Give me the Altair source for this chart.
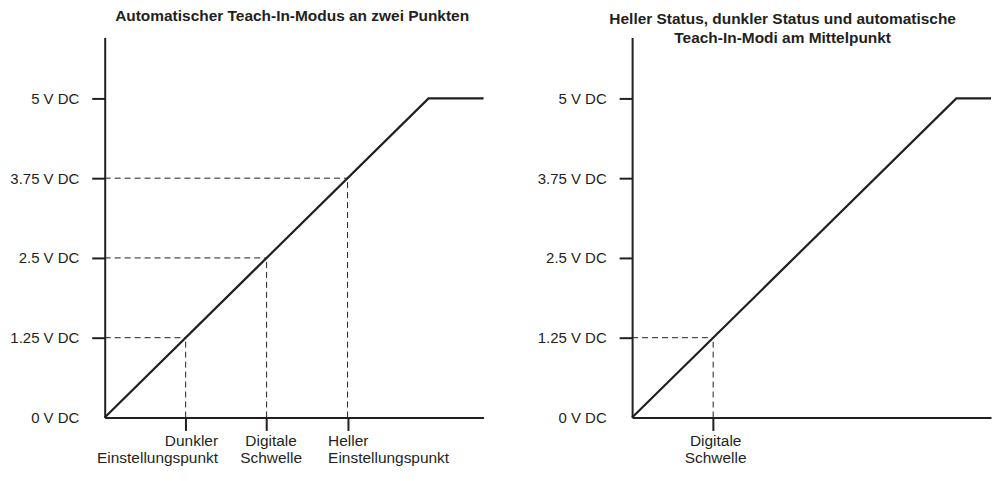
import altair as alt
import pandas as pd

C = "#231f20"
F = "Liberation Sans"

# ---- data ----
y_ticks = [0, 1.25, 2.5, 3.75, 5]
y_labels = ["0 V DC", "1.25 V DC", "2.5 V DC", "3.75 V DC", "5 V DC"]
y_max = 5.953

left_title = ["Automatischer Teach-In-Modus an zwei Punkten"]
left_line_x = [0, 5, 5.85]
left_line_y = [0, 5, 5]
left_marks = [1.25, 2.5, 3.75]
left_mark_labels = [["Dunkler", "Einstellungspunkt"], ["Digitale", "Schwelle"], ["Heller", "Einstellungspunkt"]]

right_title = ["Heller Status, dunkler Status und automatische", "Teach-In-Modi am Mittelpunkt"]
right_line_x = [0, 5, 5.535]
right_line_y = [0, 5, 5]
right_marks = [1.25]
right_mark_labels = [["Digitale", "Schwelle"]]


def label_expr(values, labels, default):
    expr = default
    for v, lab in reversed(list(zip(values, labels))):
        if isinstance(lab, list):
            s = "[" + ",".join("'" + t + "'" for t in lab) + "]"
        else:
            s = "'" + lab + "'"
        expr = f"datum.value == {v} ? {s} : {expr}"
    return expr


def cond(values, settings, default):
    return {
        "condition": [{"test": f"datum.value == {v}", "value": s} for v, s in zip(values, settings)],
        "value": default,
    }


def panel(title, offset, dx, lx, ly, marks, mlabels, aligns, offsets, width, xmax):
    line_df = pd.DataFrame({"x": lx, "y": ly})
    rows = []
    for m in marks:
        rows.append({"x": 0, "x2": m, "y": m, "y2": m})
        rows.append({"x": m, "x2": m, "y": 0, "y2": m})
    rule_df = pd.DataFrame(rows)

    xaxis = alt.Axis(
        values=marks, title=None, grid=False,
        domainColor=C, domainWidth=2,
        tickColor=C, tickWidth=2, tickSize=13,
        labelExpr=label_expr(marks, mlabels, "''"),
        labelFont=F, labelFontSize=15.5, labelColor=C, labelLineHeight=17.5,
        labelPadding=3, labelFlush=False, labelOverlap=False,
        labelAlign=cond(marks, aligns, "center"),
        labelOffset=cond(marks, offsets, 0),
    )
    yaxis = alt.Axis(
        values=y_ticks, title=None, grid=False,
        domainColor=C, domainWidth=2,
        tickColor=C, tickWidth=2, tickSize=13,
        tickOpacity={"condition": {"test": "datum.value == 0", "value": 0}, "value": 1},
        labelExpr=label_expr(y_ticks, y_labels, "''"),
        labelFont=F, labelFontSize=15, labelColor=C, labelPadding=13,
        labelFlush=False, labelOverlap=False,
    )
    xs = alt.Scale(domain=[0, xmax], nice=False, zero=False)
    ys = alt.Scale(domain=[0, y_max], nice=False, zero=False)

    line = alt.Chart(line_df).mark_line(color=C, strokeWidth=2.2, clip=False).encode(
        x=alt.X("x:Q", scale=xs, axis=xaxis),
        y=alt.Y("y:Q", scale=ys, axis=yaxis),
    )
    rules = alt.Chart(rule_df).mark_rule(color=C, strokeWidth=1, strokeDash=[6, 4]).encode(
        x=alt.X("x:Q", scale=xs, axis=xaxis),
        x2="x2:Q",
        y=alt.Y("y:Q", scale=ys, axis=yaxis),
        y2="y2:Q",
    )
    return alt.layer(rules, line).properties(
        width=width, height=381,
        title=alt.TitleParams(
            text=title, font=F, fontSize=15.5, fontWeight="bold", color=C,
            anchor="middle", offset=offset, dx=dx, lineHeight=19,
        ),
    )


left = panel(left_title, 12.8, -2, left_line_x, left_line_y, left_marks, left_mark_labels,
             ["right", "center", "left"], [32, 4, -20], 380, 5.85)
right = panel(right_title, -9.1, -29, right_line_x, right_line_y, right_marks, right_mark_labels,
              ["center"], [2], 360, 5.535)

chart = alt.hconcat(left, right, spacing=149, bounds="flush").properties(
    padding={"top": 0, "left": 1, "right": 0, "bottom": 0}
).configure_view(stroke=None)

chart.save("out.html", embed_options={"renderer": "svg", "actions": False})
